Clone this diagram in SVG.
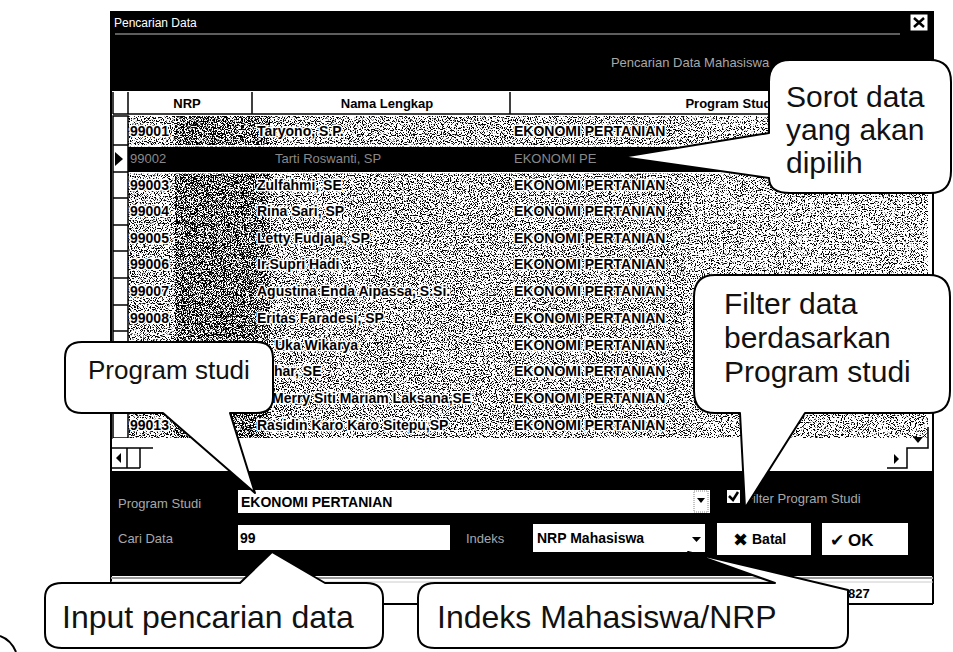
<svg xmlns="http://www.w3.org/2000/svg" width="953" height="652" viewBox="0 0 953 652">
<style>
text{font-family:"Liberation Sans",Arial,sans-serif}
.c{font-size:14px;font-weight:bold;fill:#000}
.h{stroke:#fff;stroke-width:3px;paint-order:stroke;stroke-linejoin:round}
.hd{font-size:13px;font-weight:bold;fill:#000}
.sel{font-size:13px;fill:#8a8a8a}
.faint{font-size:13px;fill:#a8a8a8}
.callout{fill:#fff;stroke:#000;stroke-width:2;stroke-linejoin:round}
.ct{font-size:30px;fill:#111}
.ln{stroke:#000;stroke-width:1.5;fill:none}
</style>
<defs>
<filter id="spkL" x="0" y="0" width="1" height="1" color-interpolation-filters="sRGB">
<feTurbulence type="fractalNoise" baseFrequency="0.85" numOctaves="2" seed="7"/>
<feColorMatrix type="matrix" values="0 0 0 0 0  0 0 0 0 0  0 0 0 0 0  -14 0 0 0 6.65"/>
</filter>
<filter id="spkD" x="0" y="0" width="1" height="1" color-interpolation-filters="sRGB">
<feTurbulence type="fractalNoise" baseFrequency="0.9" numOctaves="2" seed="3"/>
<feColorMatrix type="matrix" values="0 0 0 0 0  0 0 0 0 0  0 0 0 0 0  -14 0 0 0 6.8"/>
</filter>
<filter id="spkF" x="0" y="0" width="1" height="1" color-interpolation-filters="sRGB">
<feTurbulence type="fractalNoise" baseFrequency="0.85" numOctaves="2" seed="11"/>
<feColorMatrix type="matrix" values="0 0 0 0 0  0 0 0 0 0  0 0 0 0 0  -14 0 0 0 6.3"/>
</filter>
</defs>
<rect width="953" height="652" fill="#fff"/>

<g id="window">
<rect x="111" y="11" width="822" height="24" fill="#000"/>
<text x="114" y="27" font-size="12" fill="#fff">Pencarian Data</text>
<rect x="910" y="14" width="18" height="17" fill="#fff" stroke="#000"/>
<path d="M914,18 L924,27 M924,18 L914,27" stroke="#000" stroke-width="2.5"/>
<line x1="115" y1="34" x2="900" y2="34" stroke="#bbb" stroke-width="1"/>
<rect x="111" y="35" width="822" height="56" fill="#000"/>
<text x="690" y="67" class="faint" text-anchor="middle">Pencarian Data Mahasiswa</text>
<rect x="113" y="92" width="812" height="22" fill="#fff"/>
<path d="M113,92 V114 M128,92 V114 M252,92 V114 M510,92 V114 M113,114 H925" class="ln"/>
<text x="187" y="108" class="hd" text-anchor="middle">NRP</text>
<text x="387" y="108" class="hd" text-anchor="middle">Nama Lengkap</text>
<text x="775" y="108" class="hd" text-anchor="end">Program Studi</text>
<rect x="128" y="116" width="560" height="322" fill="#000" filter="url(#spkL)"/>
<rect x="688" y="116" width="240" height="322" fill="#000" filter="url(#spkF)"/>
<rect x="175" y="116" width="95" height="322" fill="#000" filter="url(#spkD)"/>
<rect x="128" y="145" width="805" height="1.5" fill="#fff"/>
<rect x="128" y="147" width="660" height="25" fill="#000"/>
<rect x="128" y="172" width="805" height="1.5" fill="#fff"/>
<rect x="113" y="116" width="15" height="322" fill="#fff" stroke="#000" stroke-width="1.5"/>
<path d="M113,145 H128 M113,172 H128 M113,198 H128 M113,225 H128 M113,251 H128 M113,278 H128 M113,305 H128 M113,331 H128 M113,358 H128 M113,385 H128 M113,411 H128" class="ln"/>
<polygon points="115,152 123,159 115,166" fill="#000"/>
<g>
<text x="130" y="136" class="c h">99001</text><text x="257" y="136" class="c h">Taryono, S.P.</text><text x="514" y="136" class="c h">EKONOMI PERTANIAN</text>
<text x="130" y="190" class="c h">99003</text><text x="257" y="190" class="c h">Zulfahmi, SE</text><text x="514" y="190" class="c h">EKONOMI PERTANIAN</text>
<text x="130" y="216" class="c h">99004</text><text x="257" y="216" class="c h">Rina Sari, SP</text><text x="514" y="216" class="c h">EKONOMI PERTANIAN</text>
<text x="130" y="243" class="c h">99005</text><text x="257" y="243" class="c h">Letty Fudjaja, SP</text><text x="514" y="243" class="c h">EKONOMI PERTANIAN</text>
<text x="130" y="269" class="c h">99006</text><text x="257" y="269" class="c h">Ir.Supri Hadi</text><text x="514" y="269" class="c h">EKONOMI PERTANIAN</text>
<text x="130" y="296" class="c h">99007</text><text x="257" y="296" class="c h">Agustina Enda Aipassa, S.Si.</text><text x="514" y="296" class="c h">EKONOMI PERTANIAN</text>
<text x="130" y="323" class="c h">99008</text><text x="257" y="323" class="c h">Eritas Faradesi, SP</text><text x="514" y="323" class="c h">EKONOMI PERTANIAN</text>
<text x="275" y="350" class="c h">Uka Wikarya</text><text x="514" y="350" class="c h">EKONOMI PERTANIAN</text>
<text x="274" y="376" class="c h">har, SE</text><text x="514" y="376" class="c h">EKONOMI PERTANIAN</text>
<text x="272" y="403" class="c h">Merry Siti Mariam Laksana,SE</text><text x="514" y="403" class="c h">EKONOMI PERTANIAN</text>
<text x="130" y="430" class="c h">99013</text><text x="257" y="430" class="c h">Rasidin Karo Karo Sitepu,SP</text><text x="514" y="430" class="c h">EKONOMI PERTANIAN</text>
</g>
<text x="130" y="163" class="sel">99002</text>
<text x="275" y="163" class="sel">Tarti Roswanti, SP</text>
<text x="514" y="163" class="sel">EKONOMI PE</text>
<rect x="113" y="438" width="815" height="33" fill="#fff"/>
<path d="M111,448 H153 M127,448 V468 M140,448 V468 M111,468 H140" class="ln"/>
<polygon points="121,453 116,458 121,463" fill="#000"/>
<polygon points="913,437 923,437 918,443" fill="#000"/>
<path d="M928,427 V448 H907 V468 H887" class="ln"/>
<polygon points="894,454 899,459 894,464" fill="#000"/>
<path d="M111,11 V604 M933,11 V604 M111,604 H933" stroke="#000" stroke-width="2" fill="none"/>
<rect x="111" y="471" width="822" height="105" fill="#000"/>
<text x="118" y="508" class="faint">Program Studi</text>
<rect x="238" y="490" width="472" height="23" fill="#fff"/>
<text x="241" y="507" class="c">EKONOMI PERTANIAN</text>
<rect x="694" y="491" width="14" height="21" fill="#fff" stroke="#888" stroke-dasharray="1,1"/>
<polygon points="697,498 705,498 701,503" fill="#000"/>
<rect x="727" y="490" width="13" height="13" fill="#fff"/>
<path d="M729,496 L733,500 L738,492" stroke="#000" stroke-width="2.5" fill="none"/>
<text x="745" y="503" class="faint">Filter Program Studi</text>
<text x="118" y="543" class="faint">Cari Data</text>
<rect x="238" y="525" width="212" height="25" fill="#fff"/>
<text x="240" y="543" class="c">99</text>
<text x="466" y="543" class="faint">Indeks</text>
<rect x="533" y="524" width="172" height="28" fill="#fff"/>
<text x="537" y="543" class="c">NRP Mahasiswa</text>
<polygon points="692,537 701,537 696.5,542" fill="#000"/>
<rect x="717" y="523" width="94" height="32" fill="#fff"/>
<text x="733" y="546" class="c" style="font-size:18px;font-family:'DejaVu Sans',sans-serif">✖</text>
<text x="752" y="544" class="c">Batal</text>
<rect x="822" y="523" width="86" height="32" fill="#fff"/>
<text x="830" y="546" class="c" style="font-size:17px;font-family:'DejaVu Sans',sans-serif">✔</text>
<text x="848" y="546" class="c" style="font-size:17px">OK</text>
<line x1="111" y1="578" x2="933" y2="578" stroke="#999" stroke-width="2"/>
<line x1="111" y1="582" x2="933" y2="582" stroke="#ccc" stroke-width="1"/>
<text x="848" y="598" class="c" style="font-size:13px">827</text>
</g>

<g id="connectors">
<path d="M0,636 Q11,640 16,652" stroke="#000" stroke-width="2" fill="none"/>
</g>

<g id="callout-sorot">
<path class="callout" d="M790,60 H930 Q951,60 951,82 V171 Q951,193 930,193 H790 Q769,193 769,178 L622,157 L769,133 V82 Q769,60 790,60 Z"/>
<text class="ct" x="786" y="107">Sorot data</text>
<text class="ct" x="786" y="140">yang akan</text>
<text class="ct" x="786" y="173">dipilih</text>
</g>

<g id="callout-filter">
<path class="callout" d="M715,275 H929 Q950,275 950,297 V391 Q950,413 929,413 H805 L745,508 L740,413 H715 Q694,413 694,391 V297 Q694,275 715,275 Z"/>
<text class="ct" x="724" y="314">Filter data</text>
<text class="ct" x="724" y="348">berdasarkan</text>
<text class="ct" x="724" y="382">Program studi</text>
</g>

<g id="callout-prodi">
<path class="callout" d="M82,342 H256 Q273,342 273,358 V397 Q273,413 256,413 H230 L255,493 L163,413 H82 Q65,413 65,397 V358 Q65,342 82,342 Z"/>
<text class="ct" x="88" y="379" style="font-size:26px">Program studi</text>
</g>

<g id="callout-input">
<path class="callout" d="M62,583 H240 L272,552 L325,583 H366 Q383,583 383,598 V633 Q383,648 366,648 H62 Q45,648 45,633 V598 Q45,583 62,583 Z"/>
<text class="ct" x="62" y="628" style="font-size:32px">Input pencarian data</text>
</g>

<g id="callout-indeks">
<path class="callout" d="M435,583 H775 L688,552 L848,590 V633 Q848,648 833,648 H435 Q418,648 418,633 V598 Q418,583 435,583 Z"/>
<text class="ct" x="437" y="628" style="font-size:32px">Indeks Mahasiswa/NRP</text>
</g>
</svg>
